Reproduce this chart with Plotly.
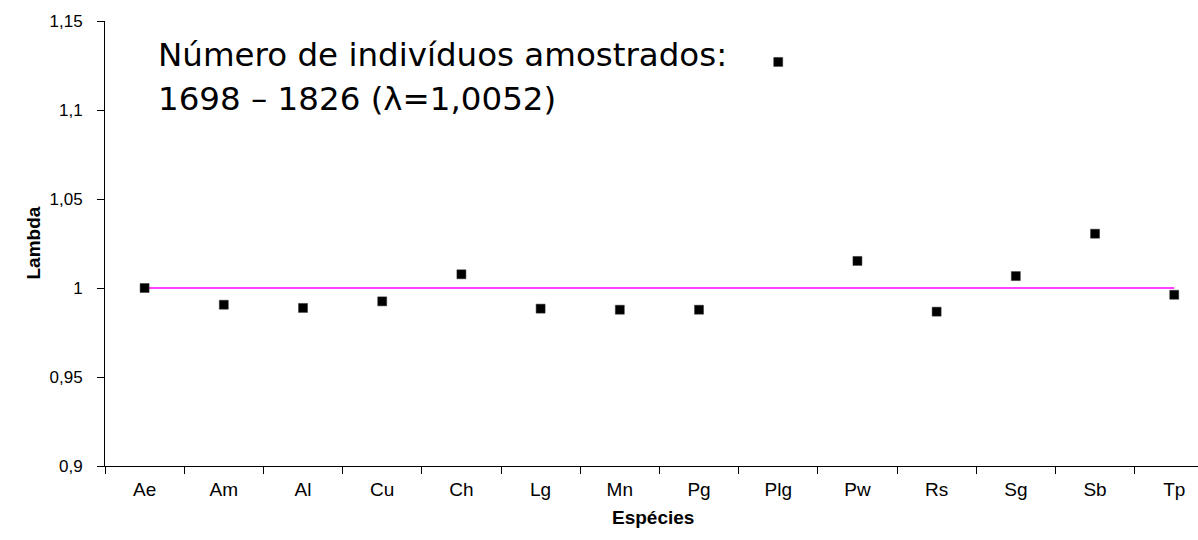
import plotly.graph_objects as go

species = ["Ae", "Am", "Al", "Cu", "Ch", "Lg", "Mn", "Pg", "Plg", "Pw", "Rs", "Sg", "Sb", "Tp"]
lambda_vals = [1.000, 0.9906, 0.9888, 0.9925, 1.0077, 0.9884, 0.9878, 0.9878, 1.127, 1.0152, 0.9867, 1.0067, 1.0305, 0.9962]
ref_line = [1, 1, 1, 1, 1, 1, 1, 1, 1, 1, 1, 1, 1, 1]
y_ticks = [0.9, 0.95, 1.0, 1.05, 1.1, 1.15]

PLOT_L, PLOT_R, PLOT_T, PLOT_B = 105, 1198, 21, 466
PW, PH = PLOT_R - PLOT_L, PLOT_B - PLOT_T

fig = go.Figure()
fig.add_trace(go.Scatter(x=species, y=ref_line, mode="lines",
                         line=dict(color="#FF00FF", width=1.5), hoverinfo="skip"))
fig.add_trace(go.Scatter(x=species, y=lambda_vals, mode="markers",
                         marker=dict(symbol="square", size=9, color="black",
                                     line=dict(color="#333333", width=0.5))))

arial = "Liberation Sans, Arial, sans-serif"
fig.update_layout(
    width=1198, height=540,
    margin=dict(l=PLOT_L, r=1198 - PLOT_R, t=PLOT_T, b=540 - PLOT_B),
    paper_bgcolor="white", plot_bgcolor="white",
    showlegend=False,
    separators=",.",
    font=dict(family=arial, color="black"),
    xaxis=dict(type="category", range=[-0.5, 13.3], showgrid=False,
               showline=True, linecolor="black", linewidth=1,
               ticks="outside", tickson="boundaries", ticklen=7, tickcolor="black",
               ticklabelstandoff=6,
               tickfont=dict(size=19, family=arial, color="black"),
               zeroline=False),
    yaxis=dict(range=[0.9, 1.15], tickvals=y_ticks, showgrid=False,
               showline=True, linecolor="black", linewidth=1,
               ticks="outside", ticklen=7, tickcolor="black",
               ticklabelstandoff=11,
               tickfont=dict(size=17, family=arial, color="black"),
               zeroline=False),
    annotations=[
        dict(text="Número de indivíduos amostrados:", x=(156 - PLOT_L) / PW, y=1.131,
             xref="paper", yref="y", xanchor="left", yanchor="middle", showarrow=False,
             font=dict(family="DejaVu Sans", size=32.5, color="black")),
        dict(text="1698 – 1826 (λ=1,0052)", x=(156 - PLOT_L) / PW, y=1.106,
             xref="paper", yref="y", xanchor="left", yanchor="middle", showarrow=False,
             font=dict(family="DejaVu Sans", size=32.5, color="black")),
        dict(text="<b>Lambda</b>", x=(21 - PLOT_L) / PW, y=(PLOT_B - 243) / PH,
             xref="paper", yref="paper", showarrow=False, textangle=-90,
             font=dict(size=19, family=arial, color="black")),
        dict(text="<b>Espécies</b>", x=(653 - PLOT_L) / PW, y=-(530 - PLOT_B) / PH,
             xref="paper", yref="paper", showarrow=False,
             font=dict(size=19, family=arial, color="black")),
    ],
)

fig.write_html("out.html")
